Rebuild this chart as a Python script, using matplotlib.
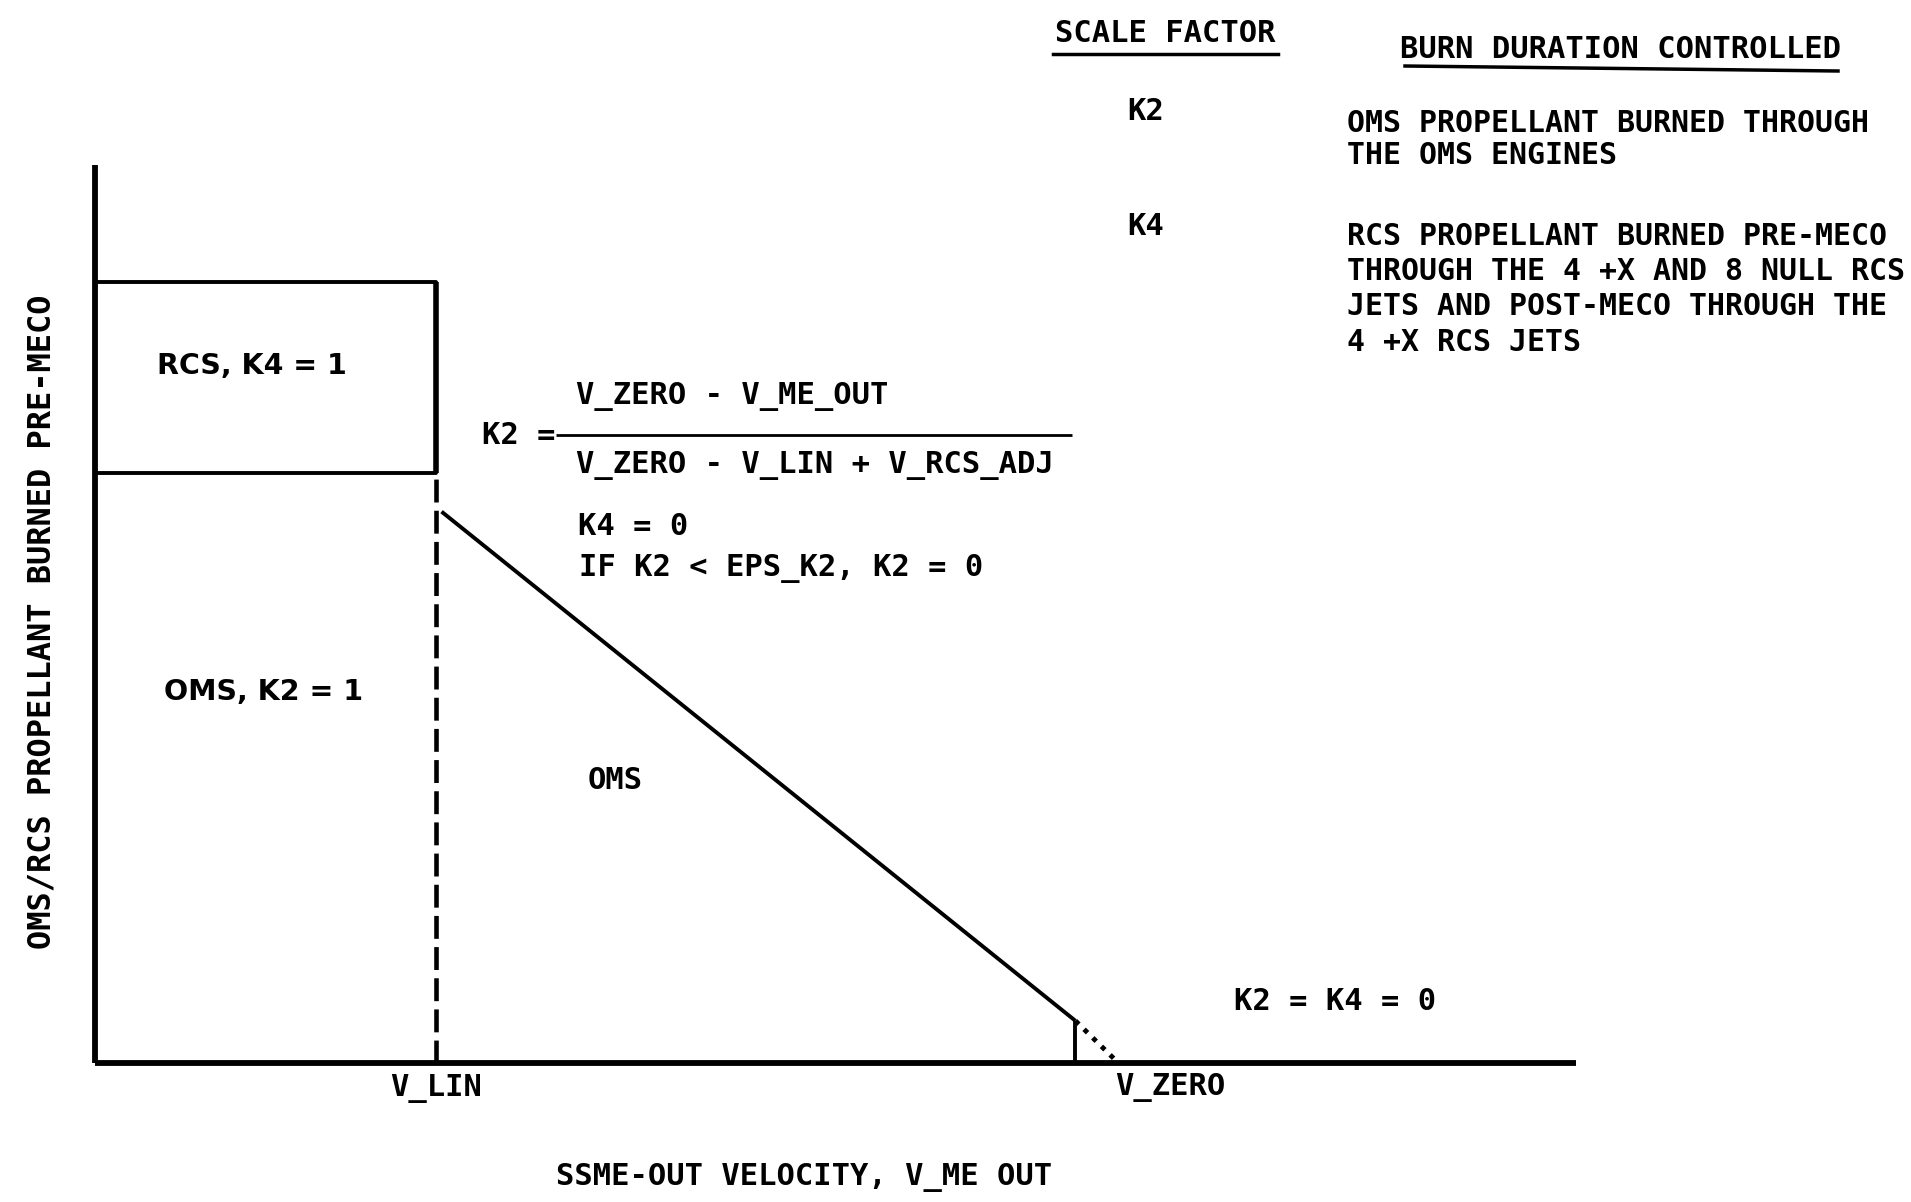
import matplotlib.pyplot as plt
from matplotlib.lines import Line2D

plt.rcParams['font.family'] = ['DejaVu Sans Mono', 'DejaVu Sans']
plt.rcParams['font.weight'] = 'bold'

# diagram values (velocity on x, propellant on y, arbitrary units 0..100)
v_lin = 23.0
v_zero = 69.1
rcs_top = 87.0
rcs_bottom = 65.7
ramp_x = [23.4, 66.2]
ramp_y = [61.4, 4.7]
eps_x = [66.2, 69.1]
eps_y = [4.7, 0.0]
axis_max = [100, 100]

scale_factors = ['K2', 'K4']
burn_controlled = [
    'OMS PROPELLANT BURNED THROUGH\nTHE OMS ENGINES',
    'RCS PROPELLANT BURNED PRE-MECO\nTHROUGH THE 4 +X AND 8 NULL RCS\nJETS AND POST-MECO THROUGH THE\n4 +X RCS JETS',
]

W, H = 1911, 1202
fig = plt.figure(figsize=(W / 100, H / 100), dpi=100)
ax = fig.add_axes([95 / W, (H - 1063) / H, 1481 / W, 898 / H])
ax.set_xlim(0, axis_max[0])
ax.set_ylim(0, axis_max[1])
ax.axis('off')

k = dict(color='black', solid_capstyle='butt', clip_on=False)
# axes
ax.plot([0, 0], [0, axis_max[1]], lw=4.2, **k)
ax.plot([0, axis_max[0]], [0, 0], lw=4.2, **k)
# RCS box
ax.plot([0, v_lin, v_lin, 0], [rcs_top, rcs_top, rcs_bottom, rcs_bottom], lw=2.8, **k)
ax.plot([v_lin, v_lin], [rcs_top, rcs_bottom], lw=4, **k)
# dashed V_LIN line
ax.plot([v_lin, v_lin], [0, rcs_bottom], lw=3.3, ls=(0, (5, 1.8)), color='black', clip_on=False)
# OMS ramp
ax.plot(ramp_x, ramp_y, lw=2.8, **k)
ax.plot([ramp_x[1], ramp_x[1]], [0, ramp_y[1]], lw=2.8, **k)
ax.plot(eps_x, eps_y, lw=3.5, ls=(0, (1, 1.5)), color='black', clip_on=False)

tk = dict(color='black', clip_on=False, fontsize=22)
ax.text(v_lin, -2.8, 'V_LIN', ha='center', va='center', **tk)
ax.text(v_zero - 0.2, -2.7, 'V_ZERO', ha='left', va='center', **tk)
ax.text(47.9, -12.7, 'SSME-OUT VELOCITY, V_ME OUT', ha='center', va='center', **tk)
ax.text(-3.6, 49.1, 'OMS/RCS PROPELLANT BURNED PRE-MECO', rotation=90,
        ha='center', va='center', color='black', clip_on=False, fontsize=23)

ax.text(10.6, 77.6, 'RCS, K4 = 1', ha='center', va='center', family='DejaVu Sans',
        color='black', fontsize=20.5)
ax.text(11.4, 41.3, 'OMS, K2 = 1', ha='center', va='center', family='DejaVu Sans',
        color='black', fontsize=20.5)
ax.text(35.1, 31.5, 'OMS', ha='center', va='center', **tk)

ax.text(26.1, 69.9, 'K2 =', ha='left', va='center', **tk)
ax.plot([31.1, 66.0], [69.9, 69.9], lw=2, **k)
ax.text(32.5, 74.2, 'V_ZERO - V_ME_OUT', ha='left', va='center', **tk)
ax.text(32.5, 66.5, 'V_ZERO - V_LIN + V_RCS_ADJ', ha='left', va='center', **tk)
ax.text(32.6, 59.7, 'K4 = 0', ha='left', va='center', **tk)
ax.text(32.7, 55.1, 'IF K2 < EPS_K2, K2 = 0', ha='left', va='center', **tk)
ax.text(83.7, 6.8, 'K2 = K4 = 0', ha='center', va='center', **tk)

# table on the right
ft = dict(color='black', fontsize=22)
fig.text(1165 / W, 1 - 34 / H, 'SCALE FACTOR', ha='center', va='center', **ft)
fig.add_artist(Line2D([1053 / W, 1278 / W], [1 - 54 / H, 1 - 54 / H], lw=2.5, color='black'))
fig.text(1621 / W, 1 - 49 / H, 'BURN DURATION CONTROLLED', ha='center', va='center', **ft)
fig.add_artist(Line2D([1405 / W, 1838 / W], [1 - 66 / H, 1 - 71 / H], lw=2.5, color='black'))

row_y = [112, 226]
desc_top = [109, 222]
row_spacing = [1.12, 1.27]
for name, desc, y, top, ls in zip(scale_factors, burn_controlled, row_y, desc_top, row_spacing):
    fig.text(1146 / W, 1 - y / H, name, ha='center', va='center', **ft)
    fig.text(1347 / W, 1 - top / H, desc, ha='left', va='top',
             linespacing=ls, color='black', fontsize=21.5)

fig.savefig('out.png', dpi=100, facecolor='white')
